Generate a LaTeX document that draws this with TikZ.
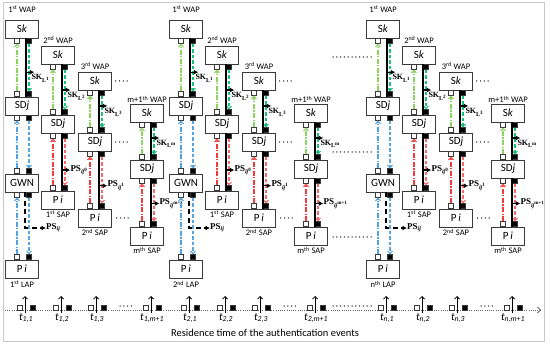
\documentclass[tikz,border=0pt]{standalone}
\usepackage{fontspec}
\setmainfont{Carlito}
\newfontfamily\tnr{Liberation Serif}
\usetikzlibrary{arrows.meta,calc}
\definecolor{ink}{HTML}{3A3A3A}
\definecolor{frame}{HTML}{C8C8C8}
\definecolor{grnup}{HTML}{8CD35F}
\definecolor{grndn}{HTML}{17C07A}
\definecolor{bluup}{HTML}{4FA3E3}
\definecolor{bludn}{HTML}{5AA5DC}
\definecolor{redup}{HTML}{F23A3A}
\definecolor{reddn}{HTML}{F46A6A}

\tikzset{
  ent/.style={draw=ink,fill=white,minimum width=33pt,minimum height=18pt,
              inner sep=0pt,font=\fontsize{11}{11}\selectfont},
  wsq/.style={draw=ink,fill=white,minimum size=5pt,inner sep=0pt},
  bsq/.style={wsq,fill=black},
  tag/.style={font=\fontsize{8.5}{9}\selectfont,inner sep=1pt},
  upln/.style={line width=1.1pt,dash pattern=on 5pt off 1.5pt on 1.2pt off 1.5pt,
               -{Straight Barb[length=2.5pt,width=5pt]}},
  dnln/.style={line width=1.1pt,dash pattern=on 3.5pt off 2pt,
               -{Straight Barb[length=2.5pt,width=5pt]}},
  core/.style={line width=1.8pt},
  give/.style={line width=1.2pt,-{Latex[length=4.5pt,width=5pt]}},
  lapdash/.style={line width=1.8pt,dash pattern=on 5pt off 3.5pt,
                  -{Latex[length=4.5pt,width=5pt]}},
  sklab/.style={font=\tnr\bfseries\fontsize{8}{9}\selectfont,inner sep=0pt},
  pslab/.style={font=\tnr\bfseries\fontsize{9}{10}\selectfont,inner sep=0pt},
  more/.style={line width=1.5pt,line cap=round,dash pattern=on 0pt off 3.8pt,black!85},
  tline/.style={black!60,line width=.8pt,dash pattern=on 1pt off 1.2pt},
  tick/.style={line width=.8pt,-{Straight Barb[length=2.5pt,width=5pt]}},
}

\begin{document}
\begin{tikzpicture}[x=1pt,y=-1pt]
\useasboundingbox (0,0) rectangle (550,345);
\draw[frame,line width=1pt] (3,3) rectangle (544,341);
\coordinate (t0) at (5,310);
\coordinate (t9) at (541,310);
\draw[tline,-{Straight Barb[length=3pt,width=6pt]}] (t0) -- (t9);

\foreach \g/\dx/\gi/\lap in {1/0/1/{1\textsuperscript{st}},2/164/2/{2\textsuperscript{nd}},3/361/n/{n\textsuperscript{th}}}{
\begin{scope}[xshift=\dx pt]
  % WAP columns: Sk above SDj
  \foreach \c/\cx/\ys/\yd/\wy/\wap/\ks/\kp/\tx/\ti in {
      A/22/29/106/9/{1\textsuperscript{st}}/1/.58/25/1,
      B/58/55/124/40/{2\textsuperscript{nd}}/2/.51/61/2,
      C/95/81/142/66/{3\textsuperscript{rd}}/3/.37/96/3,
      D/147/113/169/99.5/{m+1\textsuperscript{th}}/m/.42/151/{m+1}}{
    \node[ent] (sk\c\g) at (\cx,\ys) {S\textit{k}};
    \node[tag] (wap\c\g) at (\cx,\wy) {\wap\ WAP};
    \node[ent] (sd\c\g) at (\cx,\yd) {SD\textit{j}};
    \node[wsq,anchor=north] (sk\c\g-w) at ([xshift=-5pt]sk\c\g.south) {};
    \node[bsq,anchor=north] (sk\c\g-b) at ([xshift=7pt]sk\c\g.south) {};
    \node[wsq,anchor=south] (sd\c\g-wt) at ([xshift=-5pt]sd\c\g.north) {};
    \node[bsq,anchor=south] (sd\c\g-bt) at ([xshift=7pt]sd\c\g.north) {};
    \node[wsq,anchor=north] (sd\c\g-wb) at ([xshift=-5pt]sd\c\g.south) {};
    \node[bsq,anchor=north] (sd\c\g-bb) at ([xshift=7pt]sd\c\g.south) {};
    \draw[upln,grnup] (sd\c\g-wt) -- (sk\c\g-w);
    \draw[dnln,grndn] (sk\c\g-b) -- (sd\c\g-bt);
    \draw[core] (sk\c\g-b.north west) -- coordinate[pos=\kp] (sk\c\g-m) (sd\c\g-bt.south west);
    \draw[give] (sk\c\g-m) -- ++(8,0) coordinate (sk\c\g-e);
    \node[sklab,anchor=north west] (skl\c\g) at ([xshift=-3pt,yshift=-2pt]sk\c\g-e)
      {SK\textsubscript{L\textsuperscript{\ks}}};
    % event on the time axis
    \node[wsq,anchor=south] (ew\c\g) at (\tx-5.5,310) {};
    \node[bsq,anchor=south] (eb\c\g) at (\tx+7.5,310) {};
    \coordinate (ef\c\g) at (\tx,313);
    \coordinate (et\c\g) at (\tx,296);
    \draw[tick] (ef\c\g) -- (et\c\g);
    \node[font=\fontsize{11}{11}\selectfont,inner sep=0pt] (tl\c\g) at (\tx+1,318)
      {\textit{t}\textsubscript{\textit{\gi,\ti}}};
  }
  % gateway and LAP
  \node[ent] (gw\g) at (22,183) {GWN};
  \node[ent] (lap\g) at (22,269) {P\textit{\,i}};
  \node[tag,anchor=north] (lapt\g) at ([yshift=-1.5pt]lap\g.south) {\lap\ LAP};
  \node[wsq,anchor=south] (gw\g-wt) at ([xshift=-5pt]gw\g.north) {};
  \node[bsq,anchor=south] (gw\g-bt) at ([xshift=7pt]gw\g.north) {};
  \node[wsq,anchor=north] (gw\g-wb) at ([xshift=-5pt]gw\g.south) {};
  \node[bsq,anchor=north] (gw\g-bb) at ([xshift=7pt]gw\g.south) {};
  \node[wsq,anchor=south] (lap\g-w) at ([xshift=-5pt]lap\g.north) {};
  \node[bsq,anchor=south] (lap\g-b) at ([xshift=7pt]lap\g.north) {};
  \draw[upln,bluup] (gw\g-wt) -- (sdA\g-wb);
  \draw[dnln,bludn] (sdA\g-bb) -- (gw\g-bt);
  \draw[upln,bluup] (lap\g-w) -- (gw\g-wb);
  \draw[dnln,bludn] (gw\g-bb) -- (lap\g-b);
  \node[pslab,anchor=west] (psL\g) at (46,228) {PS\textsubscript{\itshape ij}};
  \draw[lapdash] ([xshift=3pt]gw\g.south) |- (psL\g.west);
  % SAP columns: Pi below SDj
  \foreach \c/\cx/\yp/\sap/\pp/\ps in {
      B/58/200/{1\textsuperscript{st}}/.64/0,
      C/95/218/{2\textsuperscript{nd}}/.6/1,
      D/147/236/{m\textsuperscript{th}}/.52/{m+1}}{
    \node[ent] (pi\c\g) at (\cx,\yp) {P\textit{\,i}};
    \node[tag,anchor=north] (sap\c\g) at ([yshift=-.5pt]pi\c\g.south) {\sap\ SAP};
    \node[wsq,anchor=south] (pi\c\g-w) at ([xshift=-5pt]pi\c\g.north) {};
    \node[bsq,anchor=south] (pi\c\g-b) at ([xshift=7pt]pi\c\g.north) {};
    \draw[upln,redup] (pi\c\g-w) -- (sd\c\g-wb);
    \draw[dnln,reddn] (sd\c\g-bb) -- (pi\c\g-b);
    \draw[core] (sd\c\g-bb.north west) -- coordinate[pos=\pp] (sd\c\g-m) (pi\c\g-b.south west);
    \draw[give] (sd\c\g-m) -- ++(8,0) coordinate (sd\c\g-e);
    \node[pslab,anchor=west] (ps\c\g) at (sd\c\g-e)
      {PS\textsubscript{\itshape ij\textsuperscript{\upshape\ps}}};
  }
  \draw[more] ([xshift=4pt]skC\g.east) -- ++(15,0);
  \draw[more] ([xshift=4pt]sdC\g.east) -- ++(15,0);
  \draw[more] ([xshift=5pt]piC\g.east) -- ++(14,0);
  \draw[more] (120,306) -- ++(14,0);
\end{scope}
}
\foreach \y in {57,152,237,306}{
  \draw[more] (333,\y) -- (371,\y);
}
\node[font=\fontsize{10.5}{12}\selectfont] (cap) at (265,333)
  {Residence time of the authentication events};
\end{tikzpicture}
\end{document}
